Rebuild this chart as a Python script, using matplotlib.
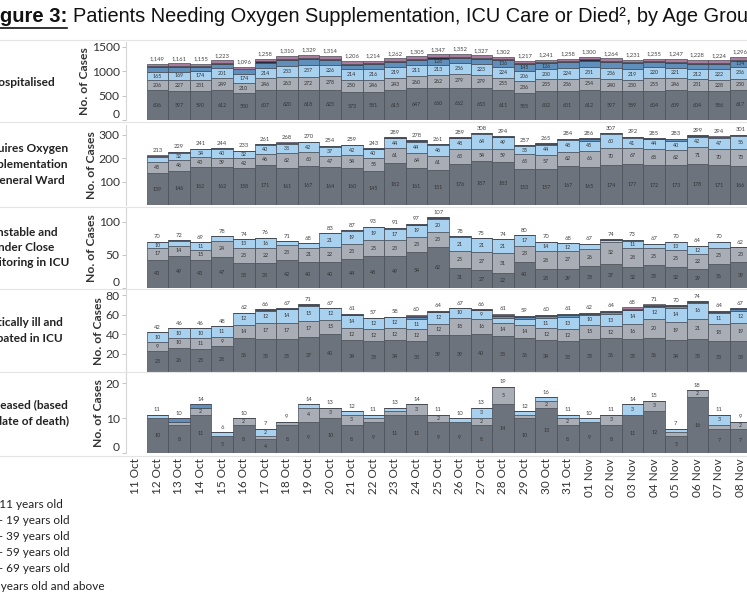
import numpy as np
import matplotlib.pyplot as plt
from matplotlib.lines import Line2D

plt.rcParams['font.family'] = ['Lato', 'DejaVu Sans']

dates = ['11 Oct', '12 Oct', '13 Oct', '14 Oct', '15 Oct', '16 Oct', '17 Oct', '18 Oct',
         '19 Oct', '20 Oct', '21 Oct', '22 Oct', '23 Oct', '24 Oct', '25 Oct', '26 Oct',
         '27 Oct', '28 Oct', '29 Oct', '30 Oct', '31 Oct', '01 Nov', '02 Nov', '03 Nov',
         '04 Nov', '05 Nov', '06 Nov', '07 Nov', '08 Nov']

age_groups = ['0 - 11 years old', '12 - 19 years old', '20 - 39 years old',
              '40 - 59 years old', '60 - 69 years old', '70 years old and above']

# hospitalised (bars start 12 Oct)
hosp_70 = [606, 597, 590, 612, 550, 607, 620, 618, 625, 573, 581, 615, 647, 660, 662, 653, 611, 555, 602, 601, 612, 597, 589, 604, 609, 604, 586, 617]
hosp_60 = [206, 227, 231, 249, 210, 246, 263, 272, 278, 250, 246, 243, 260, 262, 279, 279, 255, 236, 235, 236, 254, 240, 230, 255, 246, 231, 228, 230]
hosp_40 = [165, 169, 174, 201, 174, 214, 233, 237, 226, 214, 216, 219, 211, 213, 236, 223, 224, 206, 200, 224, 231, 236, 219, 220, 221, 212, 222, 236]
hosp_20 = [105, 100, 88, 84, 102, 111, 112, 116, 102, 97, 97, 105, 105, 126, 87, 91, 136, 145, 126, 123, 123, 115, 123, 104, 95, 109, 118, 134]
hosp_12 = [22, 20, 22, 25, 20, 25, 24, 26, 25, 22, 22, 25, 26, 28, 28, 26, 24, 25, 26, 24, 25, 24, 22, 22, 24, 22, 22, 24]
hosp_0 = [45, 48, 50, 52, 40, 55, 58, 60, 58, 50, 52, 55, 56, 58, 60, 55, 52, 50, 52, 50, 55, 52, 48, 50, 52, 50, 48, 55]

# oxygen supplementation in general ward
o2_70 = [139, 146, 162, 162, 158, 171, 161, 167, 164, 160, 145, 182, 161, 151, 176, 187, 183, 153, 157, 167, 165, 174, 177, 172, 173, 178, 171, 166]
o2_60 = [45, 46, 43, 39, 42, 46, 62, 60, 47, 54, 55, 61, 64, 61, 63, 54, 59, 65, 57, 62, 66, 70, 67, 68, 62, 71, 70, 73]
o2_40 = [22, 32, 34, 40, 32, 40, 38, 42, 37, 42, 40, 44, 44, 46, 48, 64, 49, 35, 44, 48, 45, 60, 41, 44, 40, 42, 47, 56]
o2_20 = [4, 4, 1, 2, 0, 3, 5, 0, 5, 2, 2, 1, 6, 2, 1, 2, 2, 3, 5, 5, 7, 2, 5, 0, 6, 6, 4, 4]
o2_12 = [2, 1, 1, 1, 1, 1, 1, 1, 1, 1, 1, 1, 2, 1, 1, 1, 1, 1, 1, 1, 2, 1, 1, 1, 1, 1, 1, 1]
o2_0 = [1, 0, 0, 0, 0, 0, 1, 0, 0, 0, 0, 0, 1, 0, 0, 0, 0, 0, 1, 1, 1, 0, 1, 0, 1, 1, 1, 1]

# unstable, close monitoring in ICU
icu_70 = [43, 49, 43, 47, 38, 38, 42, 40, 40, 44, 48, 49, 54, 62, 31, 27, 22, 40, 28, 29, 33, 37, 32, 35, 32, 29, 36, 39]
icu_60 = [17, 14, 15, 24, 23, 22, 23, 21, 22, 23, 25, 23, 23, 23, 25, 27, 31, 23, 28, 27, 26, 32, 28, 25, 25, 22, 25, 23]
icu_40 = [10, 8, 11, 7, 13, 16, 6, 7, 21, 19, 19, 17, 19, 20, 21, 21, 21, 17, 14, 12, 8, 3, 11, 7, 13, 12, 9, 0]
icu_20 = [0, 1, 0, 0, 0, 0, 0, 0, 0, 1, 0, 1, 0, 1, 1, 0, 0, 0, 0, 0, 0, 1, 1, 0, 0, 1, 0, 0]
icu_12 = [0, 0, 0, 0, 0, 0, 0, 0, 0, 0, 1, 1, 1, 1, 0, 0, 0, 0, 0, 0, 0, 1, 1, 0, 0, 0, 0, 0]
icu_0 = [0, 0, 0, 0, 0, 0, 0, 0, 0, 0, 0, 0, 0, 0, 0, 0, 0, 0, 0, 0, 0, 0, 0, 0, 0, 0, 0, 0]

# critically ill, intubated in ICU
int_70 = [23, 26, 25, 28, 36, 35, 35, 37, 40, 34, 33, 34, 33, 39, 39, 40, 38, 36, 34, 33, 35, 36, 35, 36, 34, 35, 33, 33]
int_60 = [9, 10, 11, 9, 14, 17, 17, 17, 15, 12, 12, 12, 12, 12, 18, 16, 14, 14, 12, 12, 15, 12, 16, 20, 19, 21, 18, 19]
int_40 = [10, 10, 10, 11, 12, 12, 14, 15, 12, 14, 12, 12, 11, 12, 10, 9, 5, 6, 11, 13, 10, 13, 14, 12, 14, 16, 11, 12]
int_20 = [0, 0, 0, 0, 0, 1, 0, 1, 0, 0, 0, 0, 2, 0, 0, 0, 2, 2, 2, 2, 1, 2, 0, 1, 2, 1, 1, 2]
int_12 = [0, 0, 0, 0, 0, 1, 1, 1, 0, 1, 0, 0, 1, 1, 0, 1, 1, 1, 1, 1, 1, 1, 1, 1, 1, 1, 1, 1]
int_0 = [0, 0, 0, 0, 0, 0, 0, 0, 0, 0, 0, 0, 1, 0, 0, 0, 1, 0, 0, 0, 0, 0, 2, 1, 0, 0, 0, 0]

# deceased
dec_70 = [10, 8, 11, 5, 8, 4, 8, 9, 10, 8, 9, 11, 11, 9, 9, 8, 14, 10, 13, 8, 9, 8, 11, 12, 5, 16, 7, 7]
dec_60 = [0, 1, 2, 0, 2, 1, 1, 4, 3, 3, 1, 1, 3, 2, 0, 2, 5, 1, 2, 2, 0, 3, 0, 3, 1, 2, 1, 2]
dec_40 = [1, 0, 0, 1, 0, 2, 0, 1, 0, 1, 1, 1, 0, 0, 1, 3, 0, 1, 1, 1, 1, 0, 3, 0, 1, 0, 3, 0]
dec_20 = [0, 1, 1, 0, 0, 0, 0, 0, 0, 0, 0, 0, 0, 0, 0, 0, 0, 0, 0, 0, 0, 0, 0, 0, 0, 0, 0, 0]
dec_12 = [0, 0, 0, 0, 0, 0, 0, 0, 0, 0, 0, 0, 0, 0, 0, 0, 0, 0, 0, 0, 0, 0, 0, 0, 0, 0, 0, 0]
dec_0 = [0, 0, 0, 0, 0, 0, 0, 0, 0, 0, 0, 0, 0, 0, 0, 0, 0, 0, 0, 0, 0, 0, 0, 0, 0, 0, 0, 0]

# colours bottom -> top: 70+, 60-69, 40-59, 20-39, 12-19, 0-11
colours = ['#6d737d', '#a9adb5', '#a8d0ef', '#5f8fba', '#262b37', '#a97c9d']

W, H = 747, 598
fig = plt.figure(figsize=(W / 100, H / 100), dpi=100)

panels = [
    dict(series=[hosp_70, hosp_60, hosp_40, hosp_20, hosp_12, hosp_0], top=42, bottom=120, ymax=1600,
         ticks=[0, 500, 1000, 1500], comma=True,
         rows=[('Hospitalised', 82, 55)]),
    dict(series=[o2_70, o2_60, o2_40, o2_20, o2_12, o2_0], top=125, bottom=205.5, ymax=342,
         ticks=[100, 200, 300], comma=False,
         rows=[('Requires Oxygen', 149, 68), ('Supplementation', 164, 68), ('in General Ward', 180, 65)]),
    dict(series=[icu_70, icu_60, icu_40, icu_20, icu_12, icu_0], top=208, bottom=288, ymax=121,
         ticks=[0, 50, 100], comma=False,
         rows=[('Unstable and', 232, 58), ('Under Close', 248, 54), ('Monitoring in ICU', 263, 69)]),
    dict(series=[int_70, int_60, int_40, int_20, int_12, int_0], top=290, bottom=373, ymax=85.6,
         ticks=[20, 40, 60, 80], comma=False,
         rows=[('Critically ill and', 323, 63), ('Intubated in ICU', 338, 63)]),
    dict(series=[dec_70, dec_60, dec_40, dec_20, dec_12, dec_0], top=374, bottom=453, ymax=22.6,
         ticks=[0, 10, 20], comma=False,
         rows=[('Deceased (based', 405, 68), ('on date of death)', 421, 69)]),
]

x = np.arange(1, len(dates))
x0_px = 126
step = 21.6
xmin, xmax = -0.45, 29.5

for i, p in enumerate(panels):
    ax = fig.add_axes([x0_px / W, 1 - p['bottom'] / H,
                       step * (xmax - xmin) / W, (p['bottom'] - p['top']) / H])
    px_per_unit = (p['bottom'] - p['top']) / p['ymax']
    base = np.zeros(len(x))
    for vals, c in zip(p['series'], colours):
        vals = np.array(vals)
        ax.bar(x, vals, width=1.0, bottom=base, color=c, edgecolor='#474c55', linewidth=0.5)
        for xi, b, v in zip(x, base, vals):
            if v * px_per_unit >= 6:
                ax.text(xi, b + v / 2, str(v), ha='center', va='center', fontsize=3.8, color='#333333')
        base = base + vals
    for xi, t in zip(x, base):
        lab = f'{int(t):,}' if p['comma'] else str(int(t))
        ax.text(xi, t + 2.5 / px_per_unit, lab, ha='center', va='bottom', fontsize=4.2, color='#444444')

    ax.set_xlim(xmin, xmax)
    ax.set_ylim(0, p['ymax'])
    ax.set_yticks(p['ticks'])
    ax.set_yticklabels([str(t) for t in p['ticks']])
    for lbl in ax.get_yticklabels():
        if lbl.get_text() == '0':
            lbl.set_verticalalignment('bottom')
    ax.tick_params(axis='y', labelsize=8.7, labelcolor='#333333', color='#bbbbbb',
                   length=3, width=0.6, pad=1.5)
    for s in ['top', 'right', 'bottom']:
        ax.spines[s].set_visible(False)
    ax.spines['left'].set_color('#d6d6d6')
    ax.set_ylabel('No. of Cases', fontsize=8.7, fontweight='bold', color='#333333', labelpad=1)
    ax.patch.set_alpha(0)

    if i == len(panels) - 1:
        ax.set_xticks(np.arange(len(dates)))
        ax.set_xticklabels(dates, rotation=90, fontsize=8.5, color='#333333')
        ax.tick_params(axis='x', length=0, pad=4)
    else:
        ax.set_xticks([])

    for text, y, xr in p['rows']:
        fig.text(xr / W, 1 - y / H, text, ha='right', va='center', fontsize=8.6,
                 fontweight='bold', color='#222222')

# panel separators
for y in [40, 122, 207, 289, 372, 456]:
    fig.add_artist(Line2D([0, 1], [1 - y / H, 1 - y / H], color='#e4e4e4', linewidth=0.8))

# title
title_font = ['Liberation Sans', 'DejaVu Sans']
fig.text(67 / W, 1 - 17 / H, 'Figure 3:', ha='right', va='center', fontsize=14.6,
         fontweight='bold', family=title_font, color='#111111')
fig.add_artist(Line2D([0, 67 / W], [1 - 28 / H, 1 - 28 / H], color='#111111', linewidth=1.2))
fig.text(73 / W, 1 - 17 / H,
         'Patients Needing Oxygen Supplementation, ICU Care or Died\u00b2, by Age Group',
         ha='left', va='center', fontsize=14.4, family=title_font, color='#111111')

# legend text (swatches are off the left edge)
legend_pos = [(505, 63), (521, 70), (537, 70), (553, 70), (569, 70), (586, 105)]
for name, (y, xr) in zip(age_groups, legend_pos):
    fig.text(xr / W, 1 - y / H, name, ha='right', va='center', fontsize=8.5, color='#222222')

fig.savefig('out.png', dpi=100)
